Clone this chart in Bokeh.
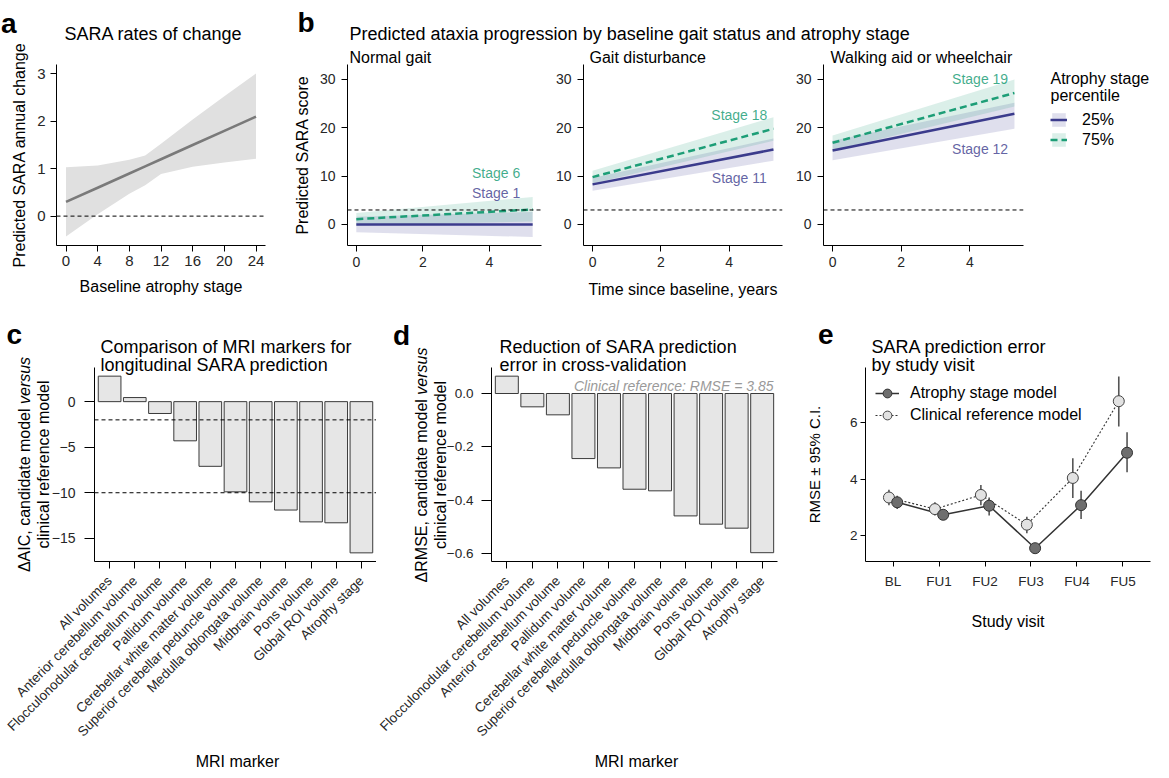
import math
from bokeh.plotting import figure
from bokeh.models import Range1d, Label, Span, FixedTicker, Legend, LegendItem
from bokeh.layouts import row, column
from bokeh.embed import file_html
from bokeh.resources import INLINE
from bokeh.core.properties import value

# ---------------- data ----------------
# panel a
a_stage = [0, 4, 8, 10, 12, 16, 20, 24]
a_fit = [0.30, 0.60, 0.90, 1.05, 1.20, 1.50, 1.80, 2.10]
a_lower = [-0.43, 0.04, 0.47, 0.65, 0.89, 1.04, 1.13, 1.21]
a_upper = [1.03, 1.07, 1.19, 1.28, 1.53, 2.04, 2.53, 3.01]
a_xticks = [0, 4, 8, 12, 16, 20, 24]
a_yticks = [0, 1, 2, 3]

# panel b
b_facets = ["Normal gait", "Gait disturbance", "Walking aid or wheelchair"]
b_time = [0.0, 5.3]
b_p25_fit = [[0.0, 0.0], [8.3, 15.5], [15.3, 22.9]]
b_p25_lower = [[-1.6, -2.6], [7.0, 13.2], [13.3, 19.8]]
b_p25_upper = [[1.6, 2.6], [9.6, 17.8], [17.3, 25.2]]
b_p75_fit = [[1.1, 3.1], [9.8, 19.8], [16.9, 27.2]]
b_p75_lower = [[-0.2, 0.6], [8.5, 17.3], [15.3, 24.4]]
b_p75_upper = [[2.4, 5.7], [11.1, 22.2], [18.4, 30.0]]
b_p25_stage = ["Stage 1", "Stage 11", "Stage 12"]
b_p75_stage = ["Stage 6", "Stage 18", "Stage 19"]
b_label_x = [4.2, 4.3, 4.3]
b_p25_label_y = [6.6, 9.7, 15.6]
b_p75_label_y = [10.6, 22.7, 30.1]
b_percentiles = ["25%", "75%"]
b_threshold = 3
b_xticks = [0, 2, 4]
b_yticks = [0, 10, 20, 30]

# panel c
c_markers = ["All volumes", "Anterior cerebellum volume", "Flocculonodular cerebellum volume",
             "Pallidum volume", "Cerebellar white matter volume",
             "Superior cerebellar peduncle volume", "Medulla oblongata volume",
             "Midbrain volume", "Pons volume", "Global ROI volume", "Atrophy stage"]
c_daic = [2.8, 0.45, -1.3, -4.3, -7.1, -9.9, -11.0, -11.9, -13.2, -13.3, -16.6]
c_thresholds = [-2, -10]
c_yticks = [0, -5, -10, -15]
c_ylabels = ["0", "\u22125", "\u221210", "\u221215"]

# panel d
d_markers = ["All volumes", "Flocculonodular cerebellum volume", "Anterior cerebellum volume",
             "Pallidum volume", "Cerebellar white matter volume",
             "Superior cerebellar peduncle volume", "Medulla oblongata volume",
             "Midbrain volume", "Pons volume", "Global ROI volume", "Atrophy stage"]
d_drmse = [0.065, -0.050, -0.080, -0.244, -0.279, -0.359, -0.365, -0.459, -0.490, -0.505, -0.597]
d_ref_rmse = 3.85
d_yticks = [0, -0.2, -0.4, -0.6]
d_ylabels = ["0.0", "\u22120.2", "\u22120.4", "\u22120.6"]

# panel e
e_visits = ["BL", "FU1", "FU2", "FU3", "FU4", "FU5"]
e_models = ["Atrophy stage model", "Clinical reference model"]
e_atrophy = [3.18, 2.74, 3.06, 1.56, 3.08, 4.93]
e_atrophy_lo = [2.94, 2.62, 2.71, 1.45, 2.59, 4.24]
e_atrophy_hi = [3.41, 2.88, 3.35, 1.68, 3.59, 5.65]
e_clinical = [3.35, 2.94, 3.44, 2.39, 4.04, 6.75]
e_clinical_lo = [3.08, 2.71, 3.08, 2.09, 3.33, 5.86]
e_clinical_hi = [3.62, 3.18, 3.79, 2.67, 4.74, 7.62]
e_yticks = [2, 4, 6]

# ---------------- style ----------------
FONT = "Liberation Sans"
TICK_COLOR = "#262626"
BLUE = "#3b3b8c"
GREEN = "#1d9e77"
BAR_FILL = "#e6e6e6"
BAR_LINE = "#3a3a3a"

# Arial / Liberation Sans advance widths (1/1000 em)
W = {"\u0394": 668, "A": 667, "I": 278, "C": 722, ",": 278, " ": 278, "c": 500, "a": 556,
     "n": 556, "d": 556, "i": 222, "t": 278, "e": 556, "m": 833, "o": 556, "l": 222,
     "v": 500, "r": 333, "s": 500, "u": 556, "R": 722, "M": 833, "S": 667, "E": 667, "f": 278}


def tw(s, size):
    return sum(W.get(ch, 556) for ch in s) * size / 1000.0


def make_fig(width, height, left, right, top, bottom, xr, yr):
    p = figure(width=width, height=height, x_range=xr, y_range=yr, output_backend="svg",
               toolbar_location=None, title=None, min_border_left=left, min_border_right=right,
               min_border_top=top, min_border_bottom=bottom)
    p.outline_line_color = None
    p.xgrid.visible = False
    p.ygrid.visible = False
    for ax in (p.xaxis[0], p.yaxis[0]):
        ax.axis_line_color = "black"
        ax.axis_line_width = 1
        ax.major_tick_line_color = "black"
        ax.major_tick_line_width = 1
        ax.major_tick_in = 0
        ax.major_tick_out = 6
        ax.minor_tick_line_color = None
        ax.major_label_text_font = FONT
        ax.major_label_text_font_size = "14px"
        ax.major_label_text_color = TICK_COLOR
        ax.axis_label_text_font = FONT
        ax.axis_label_text_font_size = "16px"
        ax.axis_label_text_font_style = "normal"
        ax.axis_label_text_color = "black"
    return p


# ---------------- panel a ----------------
pa = make_fig(290, 300, 56, 25, 35, 55, Range1d(-1.2, 25.2), Range1d(-0.62, 3.2))
pa.varea(x=a_stage, y1=a_lower, y2=a_upper, fill_color="#e0e0e0")
pa.line(x=a_stage, y=a_fit, line_color="#7a7a7a", line_width=2.6)
pa.add_layout(Span(location=0, dimension="width", line_color="black", line_width=1, line_dash="4 3"))
pa.xaxis.ticker = FixedTicker(ticks=a_xticks)
pa.yaxis.ticker = FixedTicker(ticks=a_yticks)
pa.xaxis.major_label_text_font_size = "15px"
pa.yaxis.major_label_text_font_size = "15px"
pa.xaxis.major_label_standoff = 4
pa.yaxis.major_label_standoff = 5
pa.xaxis.axis_label = "Baseline atrophy stage"
pa.yaxis.axis_label = "Predicted SARA annual change"
pa.xaxis.axis_label_standoff = 9
pa.yaxis.axis_label_standoff = 6

# ---------------- panel b ----------------
b_specs = [(260, 52, 9), (242, 33, 10), (369, 31, 138)]
pbs = []
for i, (w, l, r) in enumerate(b_specs):
    p = make_fig(w, 300, l, r, 64, 55, Range1d(-0.265, 5.565), Range1d(-4.35, 33.1))
    p.varea(x=b_time, y1=b_p25_lower[i], y2=b_p25_upper[i], fill_color=BLUE, fill_alpha=0.16)
    p.varea(x=b_time, y1=b_p75_lower[i], y2=b_p75_upper[i], fill_color=GREEN, fill_alpha=0.16)
    p.add_layout(Span(location=b_threshold, dimension="width", line_color="black", line_width=1,
                      line_dash="4 3"))
    p.line(x=b_time, y=b_p25_fit[i], line_color=BLUE, line_width=2.5)
    p.line(x=b_time, y=b_p75_fit[i], line_color=GREEN, line_width=2.5, line_dash="7 4")
    p.text(x=[b_label_x[i]], y=[b_p75_label_y[i]], text=[b_p75_stage[i]], text_font=value(FONT),
           text_font_size="14px", text_color=GREEN, text_alpha=0.85, text_align="center",
           text_baseline="middle")
    p.text(x=[b_label_x[i]], y=[b_p25_label_y[i]], text=[b_p25_stage[i]], text_font=value(FONT),
           text_font_size="14px", text_color=BLUE, text_alpha=0.8, text_align="center",
           text_baseline="middle")
    p.xaxis.ticker = FixedTicker(ticks=b_xticks)
    p.yaxis.ticker = FixedTicker(ticks=b_yticks)
    p.xaxis.major_label_standoff = 5
    p.yaxis.major_label_standoff = 6
    pbs.append(p)

pbs[0].yaxis.axis_label = "Predicted SARA score"
pbs[0].yaxis.axis_label_standoff = 6
pbs[1].xaxis.axis_label = "Time since baseline, years"
pbs[1].xaxis.axis_label_standoff = 11

# ---------------- panel c ----------------
pc = make_fig(376, 470, 94, 0, 67, 209, Range1d(0.4, 11.6), Range1d(-17.55, 3.75))
c_pos = list(range(1, len(c_markers) + 1))
pc.vbar(x=c_pos, top=c_daic, bottom=0, width=0.9, fill_color=BAR_FILL, line_color=BAR_LINE,
        line_width=1)
for t in c_thresholds:
    pc.add_layout(Span(location=t, dimension="width", line_color="black", line_width=1,
                       line_dash="4 3"))
pc.xaxis.ticker = FixedTicker(ticks=c_pos)
pc.xaxis.major_label_overrides = {k: m for k, m in zip(c_pos, c_markers)}
pc.yaxis.ticker = FixedTicker(ticks=c_yticks)
pc.yaxis.major_label_overrides = {k: s for k, s in zip(c_yticks, c_ylabels)}

# ---------------- panel d ----------------
pd_ = make_fig(406, 470, 115, 5, 67, 209, Range1d(0.4, 11.6), Range1d(-0.630, 0.0975))
d_pos = list(range(1, len(d_markers) + 1))
pd_.vbar(x=d_pos, top=d_drmse, bottom=0, width=0.9, fill_color=BAR_FILL, line_color=BAR_LINE,
         line_width=1)
pd_.xaxis.ticker = FixedTicker(ticks=d_pos)
pd_.xaxis.major_label_overrides = {k: m for k, m in zip(d_pos, d_markers)}
pd_.yaxis.ticker = FixedTicker(ticks=d_yticks)
pd_.yaxis.major_label_overrides = {k: s for k, s in zip(d_yticks, d_ylabels)}
pd_.add_layout(Label(x=282, y=176, x_units="screen", y_units="screen",
                     text="Clinical reference: RMSE = %.2f" % d_ref_rmse, text_font=FONT,
                     text_font_size="14px", text_font_style="italic", text_color="#9a9a9a",
                     text_align="right", text_baseline="alphabetic"))

for p in (pc, pd_):
    p.xaxis.major_label_orientation = math.pi / 4
    p.xaxis.major_label_text_font_size = "13.5px"
    p.xaxis.major_tick_out = 7
    p.xaxis.major_label_standoff = 10
    p.yaxis.major_tick_out = 10
    p.yaxis.major_label_standoff = 9
pd_.yaxis.major_label_text_font_size = "13.5px"
pd_.yaxis.major_label_standoff = 8

# ---------------- panel e ----------------
pe = make_fig(379, 470, 83, 11, 67, 209, Range1d(0.4, 6.6), Range1d(1.09, 7.94))
e_pos = list(range(1, len(e_visits) + 1))
x_atr = [x + 0.09 for x in e_pos]
x_cli = [x - 0.09 for x in e_pos]
l_cli = pe.line(x=x_cli, y=e_clinical, line_color="#333333", line_width=1.1, line_dash="2 2")
l_atr = pe.line(x=x_atr, y=e_atrophy, line_color="#333333", line_width=1.5)
pe.segment(x0=x_cli, y0=e_clinical_lo, x1=x_cli, y1=e_clinical_hi, line_color="#555555", line_width=1.6)
pe.segment(x0=x_atr, y0=e_atrophy_lo, x1=x_atr, y1=e_atrophy_hi, line_color="#555555", line_width=1.6)
s_cli = pe.scatter(x=x_cli, y=e_clinical, marker="circle", size=11, fill_color="#e2e2e2",
                   line_color="#444444", line_width=1)
s_atr = pe.scatter(x=x_atr, y=e_atrophy, marker="circle", size=11, fill_color="#6e6e6e",
                   line_color="#333333", line_width=1)
pe.xaxis.ticker = FixedTicker(ticks=e_pos)
pe.xaxis.major_label_overrides = {k: v for k, v in zip(e_pos, e_visits)}
pe.yaxis.ticker = FixedTicker(ticks=e_yticks)
pe.xaxis.major_label_text_font_size = "13.5px"
pe.yaxis.major_label_text_font_size = "13.5px"
pe.xaxis.major_tick_out = 5
pe.yaxis.major_tick_out = 5
pe.xaxis.major_label_standoff = 7
pe.yaxis.major_label_standoff = 3
pe.xaxis.axis_label = "Study visit"
pe.xaxis.axis_label_standoff = 21
pe.yaxis.axis_label = "RMSE \u00b1 95% C.I."
pe.yaxis.axis_label_text_font_size = "15px"
pe.yaxis.axis_label_standoff = 24
leg_e = Legend(items=[LegendItem(label=e_models[0], renderers=[l_atr, s_atr]),
                      LegendItem(label=e_models[1], renderers=[l_cli, s_cli])],
               location=(10, 135), orientation="vertical", glyph_width=24, glyph_height=22,
               label_height=20, spacing=-1, padding=0, margin=0, label_standoff=11,
               label_text_font=FONT, label_text_font_size="16px", label_text_color="black",
               border_line_color=None, background_fill_alpha=0)
pe.add_layout(leg_e)

# ---------------- text overlay (page pixel coordinates) ----------------
ov = figure(width=1161, height=770, x_range=Range1d(8, 1169), y_range=Range1d(778, 8),
            x_axis_location=None, y_axis_location=None, min_border=0,
            toolbar_location=None, title=None, output_backend="svg")
ov.outline_line_color = None
ov.background_fill_alpha = 0
ov.border_fill_alpha = 0
ov.grid.visible = False
ov.margin = (-770, 0, 0, 0)

# hidden copies of the panel-b series, used only as legend keys for panel b
k25_band = ov.varea(x=b_time, y1=b_p25_lower[2], y2=b_p25_upper[2], fill_color=BLUE,
                    fill_alpha=0.16, visible=False)
k25_line = ov.line(x=b_time, y=b_p25_fit[2], line_color=BLUE, line_width=2.5, visible=False)
k75_band = ov.varea(x=b_time, y1=b_p75_lower[2], y2=b_p75_upper[2], fill_color=GREEN,
                    fill_alpha=0.16, visible=False)
k75_line = ov.line(x=b_time, y=b_p75_fit[2], line_color=GREEN, line_width=2.5, line_dash="7 4",
                   visible=False)
leg_b = Legend(items=[LegendItem(label=b_percentiles[0], renderers=[k25_band, k25_line]),
                      LegendItem(label=b_percentiles[1], renderers=[k75_band, k75_line])],
               location=(1050, 621.5), orientation="vertical", glyph_width=17, glyph_height=17,
               label_height=17, spacing=2, padding=0, margin=0, label_standoff=15,
               label_text_font=FONT, label_text_font_size="16px", label_text_color="black",
               border_line_color=None, background_fill_alpha=0)
ov.add_layout(leg_b)


def otext(x, y, text, size="16px", style="normal", color="black", align="left",
          baseline="alphabetic", angle=0.0):
    ov.add_layout(Label(x=x, y=y, text=text, text_font=FONT, text_font_size=size,
                        text_font_style=style, text_color=color, text_align=align,
                        text_baseline=baseline, angle=angle))


def ylabel2(x1, x2, yc, prefix, italic_word, line2, size=16):
    w_pre = tw(prefix, size)
    w_it = tw(italic_word, size)
    start = yc + (w_pre + w_it) / 2.0
    fs = "%dpx" % size
    otext(x1, start, prefix, size=fs, baseline="middle", angle=math.pi / 2)
    otext(x1, start - w_pre, italic_word, size=fs, style="italic", baseline="middle",
          angle=math.pi / 2)
    otext(x2, yc, line2, size=fs, align="center", baseline="middle", angle=math.pi / 2)


# panel letters
otext(8.5, 30.7, "a", size="28px", style="bold")
otext(305, 30, "b", size="28px", style="bold")
otext(14, 341.7, "c", size="28px", style="bold")
otext(400.5, 343.3, "d", size="28px", style="bold")
otext(825.5, 341.7, "e", size="28px", style="bold")
# titles
otext(72, 41, "SARA rates of change", size="18px")
otext(357, 41.7, "Predicted ataxia progression by baseline gait status and atrophy stage", size="18px")
otext(357, 65, b_facets[0], size="16px")
otext(597, 65, b_facets[1], size="16px")
otext(838, 65, b_facets[2], size="16px")
otext(1058, 86, "Atrophy stage", size="16px")
otext(1058, 102.7, "percentile", size="16px")
otext(108, 354, "Comparison of MRI markers for", size="18px")
otext(108, 372.5, "longitudinal SARA prediction", size="18px")
otext(507, 354.5, "Reduction of SARA prediction", size="18px")
otext(507, 372.5, "error in cross-validation", size="18px")
otext(879, 354, "SARA prediction error", size="18px")
otext(879, 372.5, "by study visit", size="18px")
# axis titles for c and d
ylabel2(32, 51, 472, "\u0394AIC, candidate model ", "versus", "clinical reference model")
ylabel2(429, 448, 472.5, "\u0394RMSE, candidate model ", "versus", "clinical reference model")
otext(245, 769, "MRI marker", size="16px", align="center", baseline="middle")
otext(644, 769, "MRI marker", size="16px", align="center", baseline="middle")

# ---------------- layout ----------------
top = row(pa, *pbs)
bottom = row(pc, pd_, pe)
layout = column(top, bottom, ov)

open("out.html", "w").write(file_html(layout, INLINE))
